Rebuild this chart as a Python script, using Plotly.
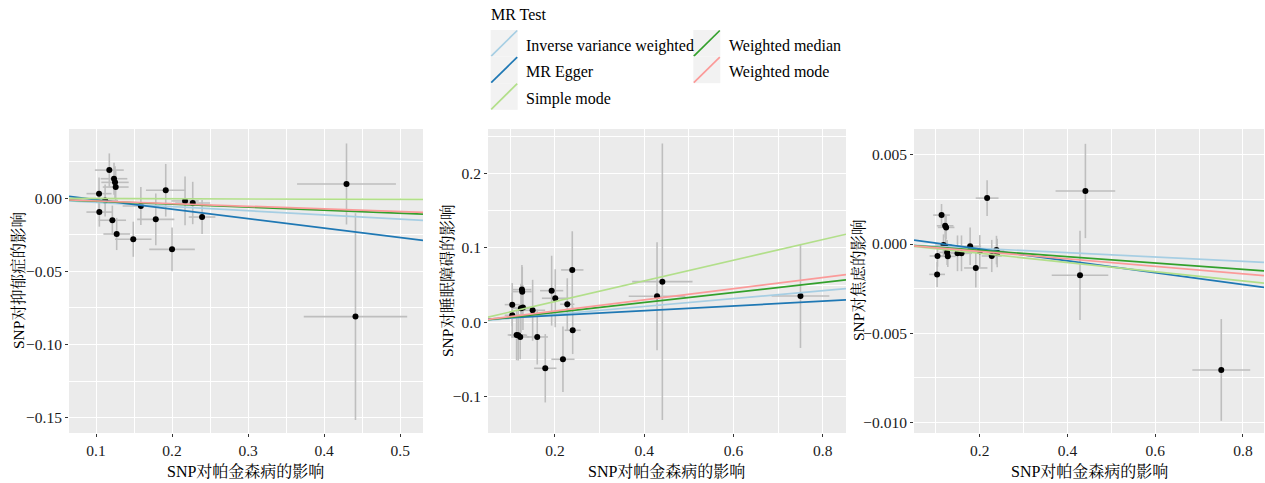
import plotly.graph_objects as go

W, H = 1265, 483

# ---------------- data ----------------
methods = ["Inverse variance weighted", "MR Egger", "Simple mode",
           "Weighted median", "Weighted mode"]
method_colors = ["#A6CEE3", "#1F78B4", "#B2DF8A", "#33A02C", "#FB9A99"]

x_title = "SNP对帕金森病的影响"
y_titles = ["SNP对抑郁症的影响", "SNP对睡眠障碍的影响", "SNP对焦虑的影响"]

# Panel 1: depression
dep_bx = [0.1175, 0.1237, 0.1250, 0.1259, 0.1040, 0.1044, 0.1120, 0.1215, 0.1272, 0.1490,
          0.1590, 0.1786, 0.1917, 0.2000, 0.2171, 0.2272, 0.2395, 0.4294, 0.4412]
dep_by = [0.0193, 0.0134, 0.0109, 0.0077, 0.0032, -0.0094, -0.0015, -0.0150, -0.0244, -0.0280,
          -0.0053, -0.0144, 0.0055, -0.0349, -0.0018, -0.0032, -0.0128, 0.0098, -0.0809]
dep_sx = [0.019, 0.0175, 0.018, 0.017, 0.0165, 0.017, 0.017, 0.018, 0.0175, 0.024,
          0.024, 0.0245, 0.026, 0.030, 0.018, 0.023, 0.0175, 0.065, 0.068]
dep_sy = [0.0114, 0.011, 0.011, 0.011, 0.011, 0.010, 0.011, 0.010, 0.011, 0.012,
          0.013, 0.0177, 0.018, 0.015, 0.0167, 0.0145, 0.0116, 0.0277, 0.0707]
dep_slope = [-0.0284, -0.0647, -0.0015, -0.0203, -0.0181]
dep_intercept = [0.0, 0.00554, 0.0, 0.0, 0.0]

# Panel 2: sleep disorder
slp_bx = [0.1043, 0.1043, 0.1260, 0.1267, 0.1238, 0.1283, 0.1141, 0.1177, 0.1222, 0.1500,
          0.1603, 0.1783, 0.1926, 0.2007, 0.2179, 0.2276, 0.2388, 0.2397, 0.4287, 0.4406, 0.7500]
slp_by = [0.0237, 0.0094, 0.0439, 0.0412, 0.0188, 0.0197, -0.0171, -0.0175, -0.0198, 0.0161,
          -0.0198, -0.0619, 0.0425, 0.0323, -0.0498, 0.0242, 0.0704, -0.0108, 0.0350, 0.0546, 0.0354]
slp_sx = [0.0168, 0.017, 0.021, 0.021, 0.020, 0.020, 0.020, 0.020, 0.020, 0.028,
          0.024, 0.025, 0.026, 0.030, 0.026, 0.016, 0.025, 0.018, 0.0635, 0.0676, 0.0647]
slp_sy = [0.029, 0.030, 0.033, 0.033, 0.033, 0.030, 0.034, 0.034, 0.030, 0.041,
          0.037, 0.046, 0.047, 0.039, 0.044, 0.035, 0.052, 0.032, 0.0727, 0.186, 0.070]
slp_slope = [0.053, 0.0319, 0.139, 0.0668, 0.0752]
slp_intercept = [0.0, 0.0028, 0.0, 0.0, 0.0]

# Panel 3: anxiety
anx_bx = [0.1128, 0.1210, 0.1232, 0.1036, 0.1027, 0.1173, 0.1222, 0.1255, 0.1271, 0.1492,
          0.1583, 0.1780, 0.1909, 0.2167, 0.2000, 0.2273, 0.2380, 0.2397, 0.4408, 0.4285, 0.7506]
anx_by = [0.00162, 0.00102, 0.00093, -0.00067, -0.00170, -0.00006, -0.00020, -0.00047, -0.00069, -0.00052,
          -0.00052, -0.00013, -0.00134, 0.00257, -0.00040, -0.00067, -0.00034, -0.00050, 0.00297, -0.00175, -0.00705]
anx_sx = [0.019, 0.019, 0.019, 0.018, 0.018, 0.019, 0.018, 0.018, 0.018, 0.024,
          0.024, 0.025, 0.0266, 0.026, 0.030, 0.023, 0.018, 0.018, 0.068, 0.0645, 0.066]
anx_sy = [0.00062, 0.00065, 0.00065, 0.0006, 0.0007, 0.0006, 0.0006, 0.0007, 0.0006, 0.0010,
          0.0010, 0.00105, 0.0011, 0.0010, 0.0009, 0.0009, 0.0008, 0.0008, 0.00264, 0.0025, 0.00285]
anx_slope = [-0.00121, -0.00332, -0.00258, -0.00177, -0.00208]
anx_intercept = [0.0, 0.00039, 0.0, 0.0, 0.0]

# ---------------- styling ----------------
FONT = "Liberation Serif, 'Times New Roman', 'Noto Serif CJK SC', 'Noto Sans CJK SC', serif"
BG = "#EBEBEB"
ERR = "#BEBEBE"


def px_x(p):
    return p / W


def px_y(p):
    return 1 - p / H


panels = [
    dict(bx=dep_bx, by=dep_by, sx=dep_sx, sy=dep_sy, slope=dep_slope, icpt=dep_intercept,
         dom=(69, 423), xr=(0.0645, 0.530), yr=(-0.1605, 0.0474),
         xd=0.1, xm=0.05, yd=0.05, ym=0.025, yf=".2f", ytx=18),
    dict(bx=slp_bx, by=slp_by, sx=slp_sx, sy=slp_sy, slope=slp_slope, icpt=slp_intercept,
         dom=(488, 846), xr=(0.050, 0.852), yr=(-0.149, 0.260),
         xd=0.2, xm=0.1, yd=0.1, ym=0.05, yf=".1f", ytx=447),
    dict(bx=anx_bx, by=anx_by, sx=anx_sx, sy=anx_sy, slope=anx_slope, icpt=anx_intercept,
         dom=(914, 1264), xr=(0.050, 0.848), yr=(-0.01058, 0.00644),
         xd=0.2, xm=0.1, yd=0.005, ym=0.0025, yf=".3f", ytx=858),
]

fig = go.Figure()
ydom = (px_y(433), px_y(129))
shapes = []
annotations = []

for i, p in enumerate(panels):
    k = "" if i == 0 else str(i + 1)
    xa, ya = "x" + k, "y" + k
    fig.add_trace(go.Scatter(
        x=p["bx"], y=p["by"], mode="markers", xaxis=xa, yaxis=ya,
        marker=dict(color="black", size=6),
        error_x=dict(type="data", array=p["sx"], color=ERR, thickness=1.6, width=0),
        error_y=dict(type="data", array=p["sy"], color=ERR, thickness=1.6, width=0),
        showlegend=False, hoverinfo="skip"))
    for m, c, s, b in zip(methods, method_colors, p["slope"], p["icpt"]):
        xs = list(p["xr"])
        ys = [b + s * v for v in xs]
        fig.add_trace(go.Scatter(x=xs, y=ys, mode="lines", xaxis=xa, yaxis=ya,
                                 line=dict(color=c, width=1.7), name=m,
                                 showlegend=False, hoverinfo="skip"))
    axis_common = dict(showgrid=True, gridcolor="white", gridwidth=1.2, zeroline=False,
                       ticks="outside", ticklen=3, tickcolor="#333333", tickwidth=1,
                       tickfont=dict(family=FONT, size=15.5, color="#1a1a1a"),
                       showline=False)
    fig.layout["xaxis" + k] = dict(
        axis_common, domain=[px_x(p["dom"][0]), px_x(p["dom"][1])], range=list(p["xr"]),
        anchor=ya, tick0=0, dtick=p["xd"],
        minor=dict(dtick=p["xm"], tick0=0, showgrid=True, gridcolor="white", gridwidth=0.6, ticklen=0))
    fig.layout["yaxis" + k] = dict(
        axis_common, domain=list(ydom), range=list(p["yr"]), anchor=xa,
        tick0=0, dtick=p["yd"], tickformat=p["yf"],
        minor=dict(dtick=p["ym"], tick0=0, showgrid=True, gridcolor="white", gridwidth=0.6, ticklen=0))
    # axis titles
    annotations.append(dict(text=x_title, xref="paper", yref="paper",
                            x=px_x((p["dom"][0] + p["dom"][1]) / 2), y=px_y(471),
                            xanchor="center", yanchor="middle", showarrow=False,
                            font=dict(family=FONT, size=16, color="black")))
    annotations.append(dict(text=y_titles[i], xref="paper", yref="paper", textangle=-90,
                            x=px_x(p["ytx"]), y=px_y(281),
                            xanchor="center", yanchor="middle", showarrow=False,
                            font=dict(family=FONT, size=15.5, color="black")))
    shapes.append(dict(type="rect", xref=xa + " domain", yref=ya + " domain",
                       x0=0, x1=1, y0=0, y1=1, fillcolor=BG, line=dict(width=0), layer="below"))

# ---------------- manual legend (column-major, ggplot style keys) ----------------
annotations.append(dict(text="MR Test", xref="paper", yref="paper", x=px_x(489), y=px_y(15),
                        xanchor="left", yanchor="middle", showarrow=False,
                        font=dict(family=FONT, size=16, color="black")))
key_w, key_h = 27, 26.6
col_x = [490.7, 693.3]
text_x = [524, 727]
row_top = [30, 56.6, 83.2]
layout_pos = [(0, 0), (0, 1), (0, 2), (1, 0), (1, 1)]
for m, c, (col, row) in zip(methods, method_colors, layout_pos):
    x0 = col_x[col]
    y0 = row_top[row]
    shapes.append(dict(type="rect", xref="paper", yref="paper",
                       x0=px_x(x0), x1=px_x(x0 + key_w), y0=px_y(y0 + key_h), y1=px_y(y0),
                       fillcolor="#F2F2F2", line=dict(width=0)))
    shapes.append(dict(type="line", xref="paper", yref="paper",
                       x0=px_x(x0 + 0.5), y0=px_y(y0 + key_h - 0.5),
                       x1=px_x(x0 + key_w - 0.5), y1=px_y(y0 + 0.5),
                       line=dict(color=c, width=1.7)))
    annotations.append(dict(text=m, xref="paper", yref="paper", x=px_x(text_x[col]),
                            y=px_y(y0 + key_h / 2 + 2.5), xanchor="left", yanchor="middle",
                            showarrow=False, font=dict(family=FONT, size=16, color="black")))

fig.update_layout(width=W, height=H, margin=dict(l=0, r=0, t=0, b=0),
                  paper_bgcolor="white", plot_bgcolor=BG,
                  shapes=shapes, annotations=annotations, showlegend=False,
                  font=dict(family=FONT))

fig.write_html("out.html", config={"displayModeBar": False},
               post_script="document.body.style.margin='0';document.body.style.overflow='hidden';")
